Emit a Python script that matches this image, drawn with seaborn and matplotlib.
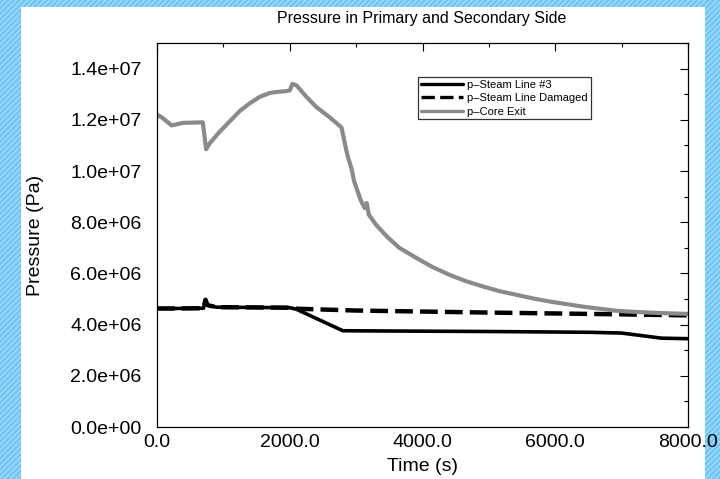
import matplotlib
matplotlib.use('Agg')
import matplotlib.pyplot as plt
from matplotlib.patches import Rectangle
from matplotlib.ticker import MultipleLocator, FuncFormatter
import seaborn as sns

# values
t_steam3 = [0, 300, 700, 730, 760, 900, 1500, 2000, 2100, 2800, 3500, 5000, 6500, 7000, 7600, 8000]
p_steam3 = [4.63e6, 4.63e6, 4.64e6, 4.97e6, 4.76e6, 4.68e6, 4.67e6, 4.66e6, 4.60e6, 3.76e6,
            3.75e6, 3.73e6, 3.70e6, 3.67e6, 3.47e6, 3.45e6]

t_damaged = [0, 300, 700, 730, 760, 900, 1500, 2000, 2100, 3000, 5000, 7000, 8000]
p_damaged = [4.63e6, 4.63e6, 4.64e6, 4.97e6, 4.76e6, 4.68e6, 4.67e6, 4.66e6, 4.62e6, 4.55e6,
             4.47e6, 4.40e6, 4.36e6]

t_core = [0, 70, 220, 390, 690, 740, 800, 950, 1100, 1250, 1400, 1550, 1700, 1850, 1950, 2000,
          2040, 2100, 2250, 2400, 2600, 2780, 2820, 2870, 2930, 2970, 3010, 3070, 3130, 3160,
          3190, 3300, 3460, 3650, 3910, 4150, 4410, 4650, 4910, 5170, 5420, 5670, 5920, 6170,
          6420, 6670, 6920, 7170, 7420, 7700, 8000]
p_core = [1.22e7, 1.21e7, 1.178e7, 1.188e7, 1.19e7, 1.085e7, 1.11e7, 1.155e7, 1.195e7, 1.235e7,
          1.265e7, 1.29e7, 1.305e7, 1.31e7, 1.312e7, 1.315e7, 1.34e7, 1.335e7, 1.29e7, 1.25e7,
          1.21e7, 1.17e7, 1.12e7, 1.06e7, 1.01e7, 9.6e6, 9.3e6, 8.85e6, 8.55e6, 8.75e6,
          8.3e6, 7.9e6, 7.45e6, 7.0e6, 6.6e6, 6.25e6, 5.94e6, 5.7e6, 5.49e6, 5.3e6,
          5.16e6, 5.02e6, 4.9e6, 4.8e6, 4.7e6, 4.62e6, 4.54e6, 4.5e6, 4.47e6, 4.44e6, 4.42e6]

labels = ['p\u2013Steam Line #3', 'p\u2013Steam Line Damaged', 'p\u2013Core Exit']

sns.set_theme(style='white')
plt.rcParams['font.family'] = ['Liberation Sans', 'DejaVu Sans']
plt.rcParams.update({'text.color': 'black', 'axes.labelcolor': 'black',
                     'xtick.color': 'black', 'ytick.color': 'black'})

fig = plt.figure(figsize=(7.2, 4.79), dpi=100)
fig.patch.set_facecolor('#6fc6f4')

# hatched blue slide background, white page on top
fig.patches.append(Rectangle((0, 0), 1, 1, transform=fig.transFigure, facecolor='none',
                             edgecolor='#a4dcf8', hatch='//////', linewidth=0, zorder=0))
fig.patches.append(Rectangle((21 / 720, 0), (705 - 21) / 720, 1 - 7 / 479, transform=fig.transFigure,
                             facecolor='white', edgecolor='none', zorder=1))

ax = fig.add_axes([157 / 720, 1 - 427 / 479, (688 - 157) / 720, (427 - 43) / 479])
ax.set_facecolor('white')
ax.set_zorder(2)

sns.lineplot(x=t_damaged, y=p_damaged, ax=ax, color='black', linewidth=3.2,
             label=labels[1]).lines[-1].set_dashes([4, 1.6])
sns.lineplot(x=t_steam3, y=p_steam3, ax=ax, color='black', linewidth=2.6, label=labels[0])
sns.lineplot(x=t_core, y=p_core, ax=ax, color='#8a8a8a', linewidth=3.0, label=labels[2])

ax.set_xlim(0, 8000)
ax.set_ylim(0, 1.5e7)
ax.xaxis.set_major_locator(MultipleLocator(2000))
ax.xaxis.set_minor_locator(MultipleLocator(1000))
ax.yaxis.set_major_locator(MultipleLocator(2e6))
ax.yaxis.set_minor_locator(MultipleLocator(1e6))
ax.xaxis.set_major_formatter(FuncFormatter(lambda v, _: f'{v:.1f}'))
ax.yaxis.set_major_formatter(FuncFormatter(lambda v, _: f'{v:.1e}'))
ax.tick_params(which='both', direction='in', top=True, right=True, color='black', width=0.8,
               labelcolor='black')
ax.tick_params(which='major', length=6, labelsize=14)
ax.tick_params(which='minor', length=3)
ax.tick_params(axis='y', which='major', pad=11)
ax.tick_params(axis='x', which='major', pad=5)
for s in ax.spines.values():
    s.set_color('black')
    s.set_linewidth(0.9)

ax.set_xlabel('Time (s)', fontsize=14, labelpad=5, color='black')
ax.set_ylabel('Pressure (Pa)', fontsize=14, labelpad=19, color='black')
fig.text(0.585, 1 - 18 / 479, 'Pressure in Primary and Secondary Side', ha='center', va='center',
         fontsize=11.5, color='black', zorder=3)

h, l = ax.get_legend_handles_labels()
order = [l.index(x) for x in labels]
leg = ax.legend([h[i] for i in order], [l[i] for i in order], loc='upper right',
                bbox_to_anchor=(0.817, 0.911), borderaxespad=0, fontsize=8, frameon=True,
                fancybox=False, edgecolor='black', handlelength=3.8, handletextpad=0.4,
                labelspacing=0.3, borderpad=0.25)
leg.get_frame().set_linewidth(0.9)
for line in leg.get_lines():
    line.set_linewidth(2.4)
for txt in leg.get_texts():
    txt.set_color('black')

fig.savefig('out.png', dpi=100, facecolor=fig.get_facecolor())
